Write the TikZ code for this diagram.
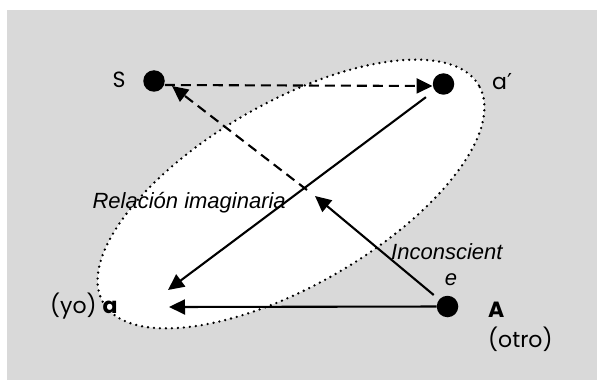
\documentclass[tikz,border=0pt]{standalone}
\usepackage{fontspec}
\setmainfont{Poppins}
\newfontfamily\arialfont{Liberation Sans}
\newfontfamily\dejavu{DejaVu Sans}
\usetikzlibrary{arrows.meta}
\definecolor{bgc}{gray}{0.85}
\begin{document}
\begin{tikzpicture}[x=1pt,y=1pt,
  dotnode/.style={circle,fill=black,inner sep=0pt,minimum size=21.5pt},
  lbl/.style={font=\fontsize{22}{26}\selectfont,inner sep=0pt},
  itl/.style={font=\arialfont\itshape\fontsize{22}{26}\selectfont,inner sep=0pt},
  arr/.style={line width=2.1pt,-{Triangle[length=16pt,width=15pt]}},
  darr/.style={arr,dash pattern=on 10pt off 6pt},
  ellip/.style={fill=white,line width=2.6pt,dash pattern=on 0pt off 6pt,line cap=round}]
\useasboundingbox (0,0) rectangle (597,389);
\fill[bgc] (7,9) rectangle (597,379);
\draw[ellip,rotate around={30:(291,195)}] (291,195) ellipse [x radius=217pt, y radius=91.5pt];
\node[dotnode] (S) at (154,308) {};
\node[dotnode] (ap) at (443.5,305) {};
\node[dotnode] (A) at (447.5,82.5) {};
\node[lbl,anchor=base] (Sl) at (119,301) {S};
\node[lbl,anchor=base west] (apl) at (492,299) {a{\dejavu ′}};
\node[lbl,anchor=base west] (al) at (50,76) {(yo) \textbf{a}};
\node[lbl,anchor=base west] (Al) at (488,72) {\textbf{A}};
\node[lbl,anchor=base west] (otro) at (488,42) {(otro)};
\node[itl,anchor=base east] (rel) at (286,181) {Relación imaginaria};
\node[itl,anchor=base west] (inc) at (391,130) {Inconscient};
\node[itl,anchor=base] (inc2) at (451,104) {e};
\coordinate (a1) at (169,82);
\coordinate (a2) at (168,99);
\coordinate (m1) at (315,193);
\coordinate (m2) at (307,199);
\draw[darr] ([yshift=-4pt]S.east) -- ([yshift=-2pt]ap.west);
\draw[darr] (m2) -- ([shift={(18pt,-5pt)}]S.center);
\draw[arr,shorten <=11pt] (ap) -- (a2);
\draw[arr] (A) -- (a1);
\draw[arr,shorten <=7pt] (A) -- (m1);
\end{tikzpicture}
\end{document}
